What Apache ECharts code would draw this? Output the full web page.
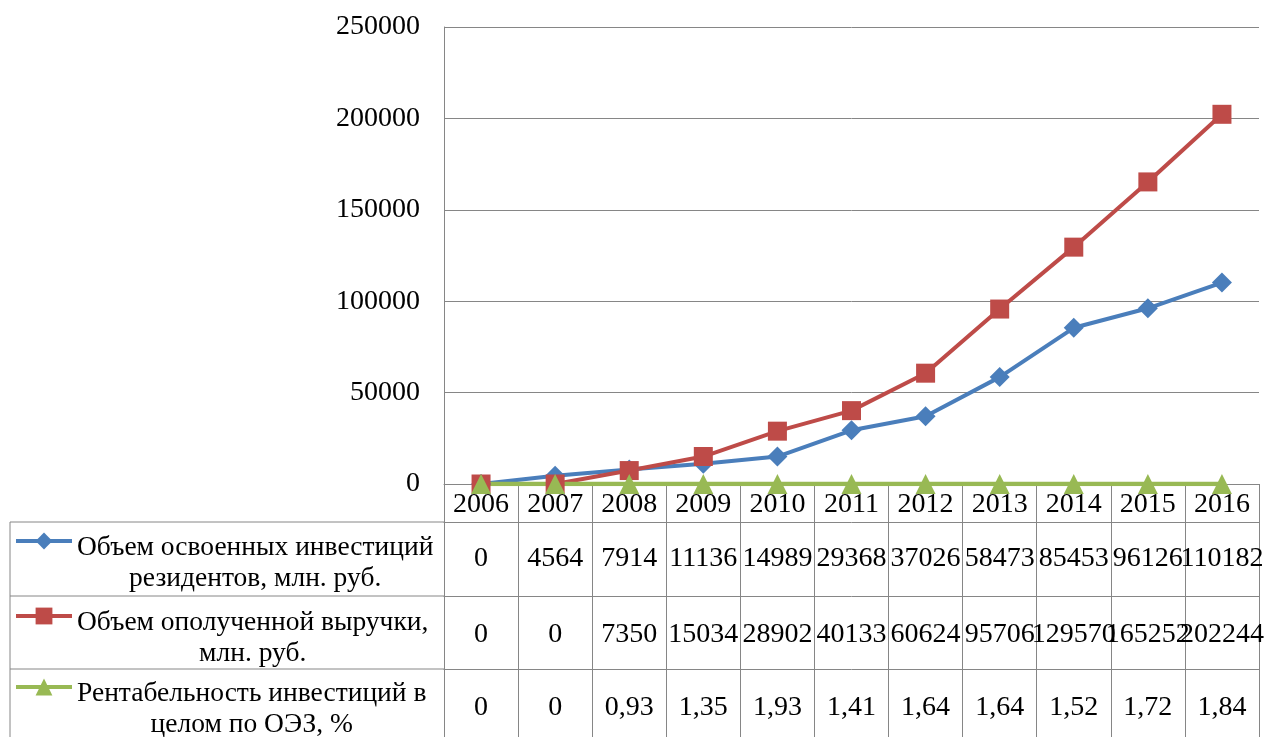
<!DOCTYPE html>
<html>
<head>
<meta charset="utf-8">
<title>ОЭЗ</title>
<script src="https://cdn.jsdelivr.net/npm/echarts@6/dist/echarts.min.js"></script>
<style>
  html, body { margin: 0; padding: 0; background: #fff; }
  #chart { width: 1267px; height: 737px; }
</style>
</head>
<body>
<div id="chart"></div>
<script>
// data
const years = ['2006', '2007', '2008', '2009', '2010', '2011', '2012', '2013', '2014', '2015', '2016']
const investments = [0, 4564, 7914, 11136, 14989, 29368, 37026, 58473, 85453, 96126, 110182]
const revenue = [0, 0, 7350, 15034, 28902, 40133, 60624, 95706, 129570, 165252, 202244]
const profitability = [0, 0, 0.93, 1.35, 1.93, 1.41, 1.64, 1.64, 1.52, 1.72, 1.84]
const seriesNames = [
  'Объем освоенных инвестиций\nрезидентов, млн. руб.',
  'Объем ополученной выручки,\nмлн. руб.',
  'Рентабельность инвестиций в\nцелом по ОЭЗ, %'
]
const yMin = 0
const yMax = 250000
const yStep = 50000

// layout
const H = 737
const gridLeft = 444
const gridRight = 8
const gridTop = 27
const gridBottomY = 484
const rowLines = [522, 596, 669]
const legendTops = [505, 580, 651]
const tableLeft = 10
const font = "'Liberation Serif', 'Times New Roman', serif"
const fontSize = 28
const legendFontSize = 27.5
const lineColor = '#868686'
const colors = ['#4A7EBB', '#BE4B48', '#98B954']

const fmtRow = v => String(v).replace('.', ',')
const rows = [investments, revenue, profitability]
const labelMargins = [23, 25, 25]

const chart = echarts.init(document.getElementById('chart'))

const tableAxes = rows.map((row, i) => ({
  type: 'category',
  data: years,
  position: 'bottom',
  offset: rowLines[i] - gridBottomY,
  axisLine: { show: true, lineStyle: { color: lineColor, width: 1 } },
  axisTick: { show: false },
  splitLine: { show: false },
  axisLabel: {
    interval: 0,
    margin: labelMargins[i],
    color: '#000',
    fontFamily: font,
    fontSize: fontSize,
    formatter: (v, idx) => fmtRow(row[idx])
  }
}))

const legends = seriesNames.map((name, i) => ({
  orient: 'vertical',
  left: 14,
  top: legendTops[i],
  padding: 0,
  itemWidth: 56,
  itemHeight: 21,
  selectedMode: false,
  data: [name],
  lineStyle: { width: 4 },
  formatter: n => {
    const parts = n.split('\n')
    return `{s| }\n{t|${parts[0]}}\n{t|${parts[1]}}`
  },
  textStyle: {
    color: '#000',
    fontFamily: font,
    fontSize: legendFontSize,
    rich: {
      s: { fontFamily: font, fontSize: 10, lineHeight: 45 },
      t: { fontFamily: font, fontSize: legendFontSize, lineHeight: 31, align: 'center', color: '#000' }
    }
  }
}))

const leftLines = rowLines.map(y => ({
  type: 'line',
  shape: { x1: tableLeft, y1: y, x2: gridLeft, y2: y },
  style: { stroke: lineColor, lineWidth: 1 }
}))
leftLines.push({
  type: 'line',
  shape: { x1: tableLeft, y1: rowLines[0], x2: tableLeft, y2: H },
  style: { stroke: lineColor, lineWidth: 1 }
})

chart.setOption({
  animation: false,
  backgroundColor: '#fff',
  color: colors,
  grid: {
    left: gridLeft,
    right: gridRight,
    top: gridTop,
    bottom: H - gridBottomY
  },
  legend: legends,
  graphic: leftLines,
  xAxis: [
    {
      type: 'category',
      data: years,
      position: 'bottom',
      axisLine: { show: true, lineStyle: { color: lineColor, width: 1 } },
      axisTick: { show: true, interval: 0, length: H - gridBottomY, lineStyle: { color: lineColor, width: 1 } },
      axisLabel: { interval: 0, margin: 7, color: '#000', fontFamily: font, fontSize: fontSize },
      splitLine: { show: false }
    },
    ...tableAxes
  ],
  yAxis: {
    type: 'value',
    min: yMin,
    max: yMax,
    interval: yStep,
    axisLine: { show: true, lineStyle: { color: lineColor, width: 1 } },
    axisTick: { show: false },
    splitLine: { lineStyle: { color: lineColor, width: 1 } },
    axisLabel: {
      margin: 24,
      color: '#000',
      fontFamily: font,
      fontSize: fontSize,
      formatter: v => String(v)
    }
  },
  series: [
    {
      name: seriesNames[0],
      type: 'line',
      data: investments,
      symbol: 'diamond',
      symbolSize: 20,
      lineStyle: { width: 4 },
      itemStyle: { color: colors[0] }
    },
    {
      name: seriesNames[1],
      type: 'line',
      data: revenue,
      symbol: 'rect',
      symbolSize: 19,
      lineStyle: { width: 4 },
      itemStyle: { color: colors[1] }
    },
    {
      name: seriesNames[2],
      type: 'line',
      data: profitability,
      symbol: 'triangle',
      symbolSize: 20,
      lineStyle: { width: 4.5 },
      itemStyle: { color: colors[2] }
    }
  ]
})
</script>
</body>
</html>
